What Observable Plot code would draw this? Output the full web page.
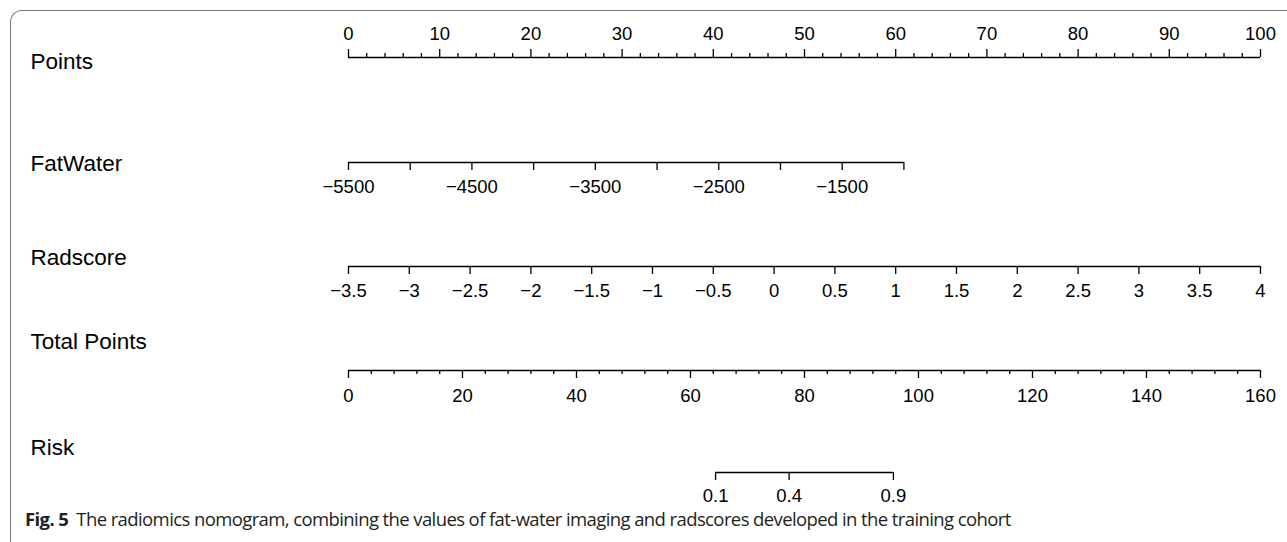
<!DOCTYPE html>
<html>
<head>
<meta charset="utf-8">
<script src="https://cdn.jsdelivr.net/npm/d3@7"></script>
<script src="https://cdn.jsdelivr.net/npm/@observablehq/plot@0.6"></script>
<style>
  html, body { margin: 0; padding: 0; background: #fff; width: 1287px; height: 542px; overflow: hidden; }
  #wrap { position: relative; width: 1287px; height: 542px; }
  #frame { position: absolute; left: 10px; top: 10px; width: 1300px; height: 560px;
           border-left: 1.5px solid #7a7a7a; border-top: 1.5px solid #7a7a7a; border-top-left-radius: 12px; }
  #chart { position: absolute; left: 0; top: 0; }
  #caption { position: absolute; left: 25px; top: 509px; font-family: "Open Sans", "Noto Sans", sans-serif;
             font-size: 18.5px; line-height: 20px; color: #231f20; white-space: nowrap; letter-spacing: -0.6px; }
  #caption b { font-weight: 700; margin-right: 8px; }
</style>
</head>
<body>
<div id="wrap">
  <div id="frame"></div>
  <div id="chart"></div>
  <div id="caption"><b>Fig. 5</b>The radiomics nomogram, combining the values of fat-water imaging and radscores developed in the training cohort</div>
</div>
<script>
// ---------- data ----------
const rowNames = ["Points", "FatWater", "Radscore", "Total Points", "Risk"];

const pointsMajorTicks = [0, 10, 20, 30, 40, 50, 60, 70, 80, 90, 100];
const pointsMinorTicks = [2, 4, 6, 8, 12, 14, 16, 18, 22, 24, 26, 28, 32, 34, 36, 38, 42, 44, 46, 48,
  52, 54, 56, 58, 62, 64, 66, 68, 72, 74, 76, 78, 82, 84, 86, 88, 92, 94, 96, 98];

const fatWaterTicks = [-5500, -5000, -4500, -4000, -3500, -3000, -2500, -2000, -1500, -1000];
const fatWaterLabels = [-5500, -4500, -3500, -2500, -1500];
const fatWaterDomain = [-5500, -1000];      // FatWater values at axis ends
const fatWaterPoints = [0, 60.9];           // corresponding points

const radscoreTicks = [-3.5, -3, -2.5, -2, -1.5, -1, -0.5, 0, 0.5, 1, 1.5, 2, 2.5, 3, 3.5, 4];
const radscoreDomain = [-3.5, 4];
const radscorePoints = [0, 100];

const totalMajorTicks = [0, 20, 40, 60, 80, 100, 120, 140, 160];
const totalMinorTicks = [4, 8, 12, 16, 24, 28, 32, 36, 44, 48, 52, 56, 64, 68, 72, 76,
  84, 88, 92, 96, 104, 108, 112, 116, 124, 128, 132, 136, 144, 148, 152, 156];
const totalDomain = [0, 160];

const riskTicks = [0.1, 0.4, 0.9];
const riskTotalPoints = [64.4, 77.3, 95.6];   // total points at which each risk is reached

// ---------- layout ----------
const layout = {
  Points:        {title: 61,  axis: 57,  dir: -1, major: 8, minor: 4, label: 34},
  FatWater:      {title: 163, axis: 162, dir: 1,  major: 8, minor: 8, label: 187},
  Radscore:      {title: 257, axis: 266, dir: 1,  major: 8, minor: 8, label: 291},
  "Total Points":{title: 341, axis: 370, dir: 1,  major: 8, minor: 4, label: 396},
  Risk:          {title: 447, axis: 472, dir: 1,  major: 8, minor: 8, label: 496}
};

const fw = d3.scaleLinear().domain(fatWaterDomain).range(fatWaterPoints);
const rs = d3.scaleLinear().domain(radscoreDomain).range(radscorePoints);
const tp = d3.scaleLinear().domain(totalDomain).range([0, 100]);
const fmt = n => (n < 0 ? "\u2212" + String(Math.abs(n)) : String(n));

const ticks = [];
const labels = [];
const axes = [];
function addRow(row, majors, minors, toP, labelVals, labelFmt) {
  const L = layout[row];
  majors.forEach(v => ticks.push({p: toP(v), y1: L.axis, y2: L.axis + L.dir * L.major}));
  minors.forEach(v => ticks.push({p: toP(v), y1: L.axis, y2: L.axis + L.dir * L.minor}));
  labelVals.forEach(v => labels.push({p: toP(v), y: L.label, text: labelFmt(v)}));
  const all = majors.concat(minors).map(toP);
  axes.push({x1: d3.min(all), x2: d3.max(all), y: L.axis});
}
addRow("Points", pointsMajorTicks, pointsMinorTicks, v => v, pointsMajorTicks, fmt);
addRow("FatWater", fatWaterTicks, [], fw, fatWaterLabels, fmt);
addRow("Radscore", radscoreTicks, [], rs, radscoreTicks, fmt);
addRow("Total Points", totalMajorTicks, totalMinorTicks, tp, totalMajorTicks, fmt);
addRow("Risk", riskTotalPoints, [], tp,
  riskTotalPoints, v => String(riskTicks[riskTotalPoints.indexOf(v)]));

const titles = rowNames.map(n => ({name: n, y: layout[n].title}));

const chart = Plot.plot({
  width: 1287,
  height: 507,
  marginLeft: 0, marginRight: 0, marginTop: 0, marginBottom: 0,
  x: {domain: [0, 100], range: [348, 1260], axis: null},
  y: {type: "identity", axis: null},
  style: {fontFamily: "'Liberation Sans', Arial, sans-serif", background: "transparent", overflow: "visible"},
  marks: [
    Plot.ruleY(axes, {y: "y", x1: "x1", x2: "x2", stroke: "#000", strokeWidth: 1.5}),
    Plot.ruleX(ticks, {x: "p", y1: "y1", y2: "y2", stroke: "#000", strokeWidth: 1.3}),
    Plot.text(labels, {x: "p", y: "y", text: "text", fontSize: 18.5, fill: "#000", textAnchor: "middle"}),
    Plot.text(titles, {frameAnchor: "left", dx: 30, y: "y", text: "name", fontSize: 22.5, fill: "#000", textAnchor: "start"})
  ]
});
document.getElementById("chart").appendChild(chart);
</script>
</body>
</html>
